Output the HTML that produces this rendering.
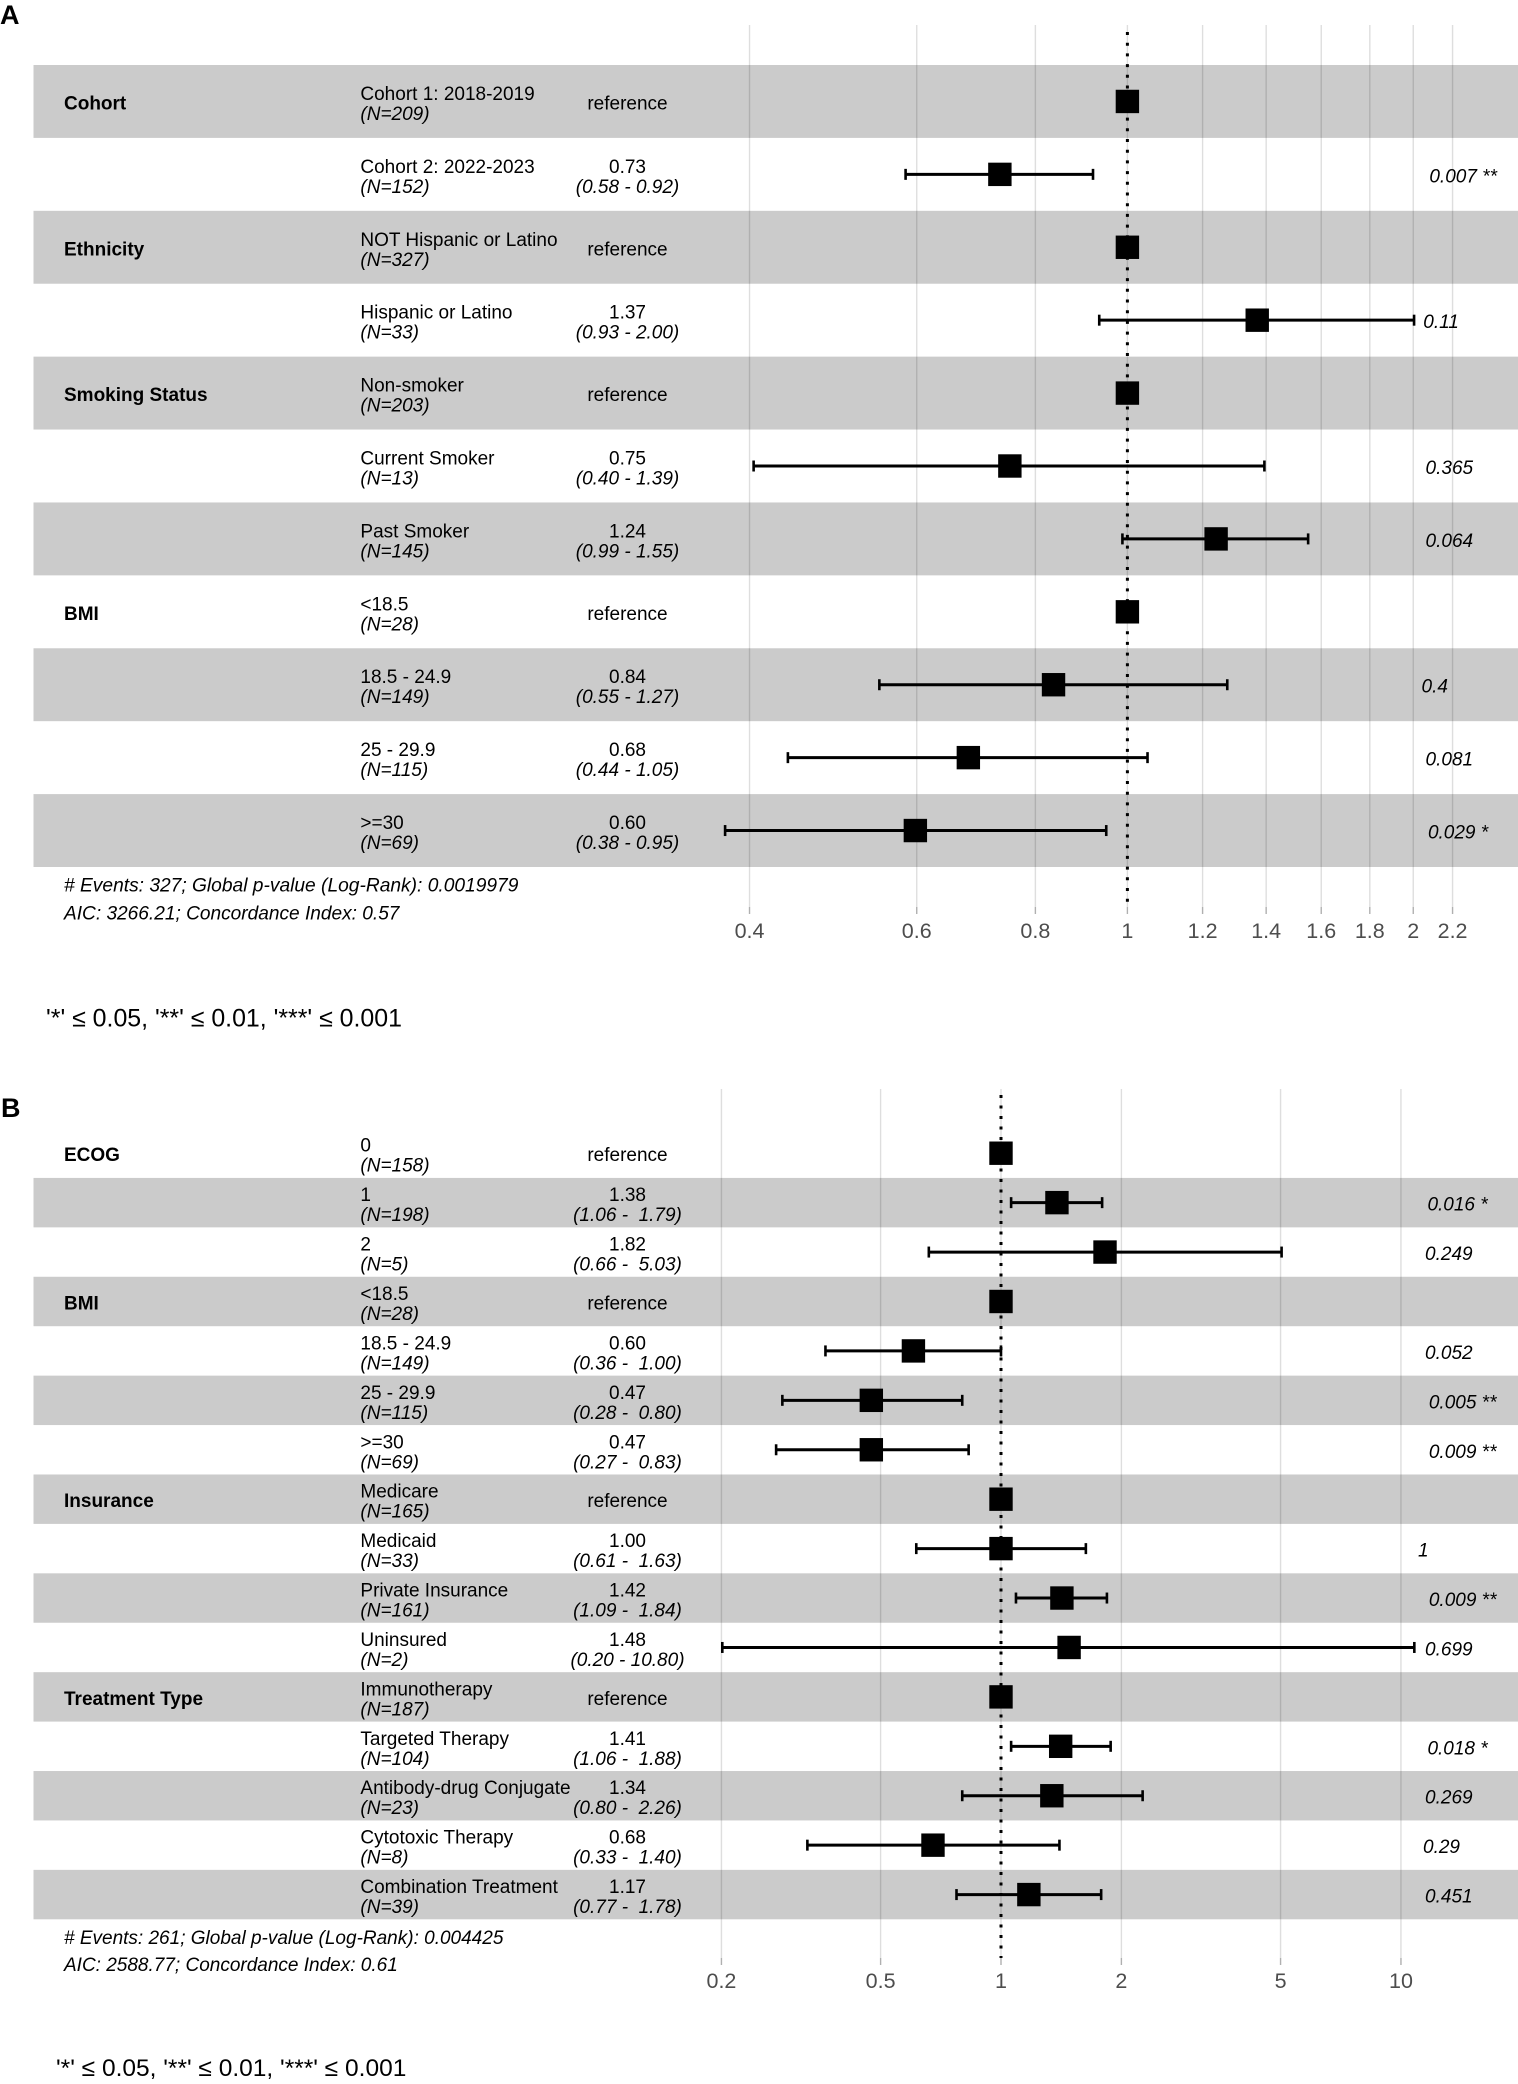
<!DOCTYPE html>
<html lang="en">
<head>
<meta charset="utf-8">
<title>Forest plots of hazard ratios</title>
<style>
html,body{margin:0;padding:0;background:#fff;}
svg{display:block;}
text{font-family:"Liberation Sans",Arial,sans-serif;white-space:pre;}
</style>
</head>
<body>
<svg id="figure" xmlns="http://www.w3.org/2000/svg" width="1518" height="2084" viewBox="0 0 1518 2084">
  <text x="0" y="24" font-size="27" font-weight="bold">A</text>
  <text x="1" y="1117" font-size="27" font-weight="bold">B</text>
  <text x="64" y="891.5" font-size="19.2" font-style="italic"># Events: 327; Global p-value (Log-Rank): 0.0019979</text>
  <text x="64" y="919.5" font-size="19.1" font-style="italic">AIC: 3266.21; Concordance Index: 0.57</text>
  <text x="46" y="1026.5" font-size="24.9">'*' ≤ 0.05, '**' ≤ 0.01, '***' ≤ 0.001</text>
  <text x="64" y="1944" font-size="19" font-style="italic"># Events: 261; Global p-value (Log-Rank): 0.004425</text>
  <text x="64" y="1971" font-size="19" font-style="italic">AIC: 2588.77; Concordance Index: 0.61</text>
  <text x="56" y="2076" font-size="24.5">'*' ≤ 0.05, '**' ≤ 0.01, '***' ≤ 0.001</text>
</svg>
<script>
// Panel A data (estimates; they round to the printed values)
const aGroups = ["Cohort","","Ethnicity","","Smoking Status","","","BMI","","",""];
const aLevels = ["Cohort 1: 2018-2019","Cohort 2: 2022-2023","NOT Hispanic or Latino","Hispanic or Latino","Non-smoker","Current Smoker","Past Smoker","<18.5","18.5 - 24.9","25 - 29.9",">=30"];
const aCounts = [209,152,327,33,203,13,145,28,149,115,69];
const aHR = [1,0.734,1,1.37,1,0.752,1.24,1,0.836,0.68,0.598];
const aLow = [null,0.584,null,0.934,null,0.404,0.988,null,0.548,0.439,0.377];
const aHigh = [null,0.92,null,2.004,null,1.394,1.55,null,1.274,1.05,0.95];
const aP = ["","0.007 **","","0.11","","0.365","0.064","","0.4","0.081","0.029 *"];
const aTicks = [0.4,0.6,0.8,1,1.2,1.4,1.6,1.8,2,2.2];

// Panel B data (estimates; they round to the printed values)
const bGroups = ["ECOG","","","BMI","","","","Insurance","","","","Treatment Type","","","",""];
const bLevels = ["0","1","2","<18.5","18.5 - 24.9","25 - 29.9",">=30","Medicare","Medicaid","Private Insurance","Uninsured","Immunotherapy","Targeted Therapy","Antibody-drug Conjugate","Cytotoxic Therapy","Combination Treatment"];
const bCounts = [158,198,5,28,149,115,69,165,33,161,2,187,104,23,8,39];
const bHR = [1,1.38,1.82,1,0.604,0.474,0.474,1,1.00,1.42,1.48,1,1.41,1.34,0.676,1.174];
const bLow = [null,1.06,0.66,null,0.364,0.284,0.274,null,0.614,1.09,0.201,null,1.06,0.80,0.328,0.774];
const bHigh = [null,1.79,5.03,null,1.00,0.80,0.83,null,1.63,1.84,10.80,null,1.88,2.26,1.40,1.78];
const bP = ["","0.016 *","0.249","","0.052","0.005 **","0.009 **","","1","0.009 **","0.699","","0.018 *","0.269","0.29","0.451"];
const bTicks = [0.2,0.5,1,2,5,10];

const SVG_NS = "http://www.w3.org/2000/svg";
const figure = document.getElementById("figure");

function make(tag, attrs, parent, content) {
  const el = document.createElementNS(SVG_NS, tag);
  for (const k in attrs) el.setAttribute(k, attrs[k]);
  if (content !== undefined) el.textContent = content;
  parent.appendChild(el);
  return el;
}

function drawPanel(cfg) {
  const rowH = (cfg.bandBottom - cfg.bandTop) / cfg.levels.length;
  const xScale = v => cfg.xAtOne + cfg.xPerLog * Math.log(v);
  const yScale = i => cfg.bandTop + rowH * (i + 0.5);
  const panel = make("g", {}, figure);
  
  

  cfg.levels.forEach((lvl, i) => {
    if (i % 2 === cfg.grayParity) {
      const band = make("rect", {x: 33.5, y: yScale(i) - rowH / 2, width: 1484.5, height: rowH, fill: "#cbcbcb"}, panel);
      
      
    }
  });

  cfg.ticks.forEach(t => {
    const gx = xScale(t);
    const grid = make("line", {x1: gx, x2: gx, y1: cfg.gridTop, y2: cfg.tickTop, stroke: "#000", "stroke-opacity": 0.13, "stroke-width": 1.4}, panel);
    
    
    const tick = make("line", {x1: gx, x2: gx, y1: cfg.tickTop, y2: cfg.tickTop + 7, stroke: "#b0b0b0", "stroke-width": 1.4}, panel);
    
    
    const tl = make("text", {x: gx, y: cfg.tickLabelY, "font-size": 21.5, fill: "#4d4d4d", "text-anchor": "middle"}, panel, String(t));
    
    
  });

  const ref = make("line", {x1: xScale(1), x2: xScale(1), y1: cfg.refTop, y2: cfg.tickTop, stroke: "#000", "stroke-width": 3, "stroke-dasharray": "3 " + cfg.refGap}, panel);
  
  

  const w = cfg.ciWidth;
  cfg.levels.forEach((lvl, i) => {
    const cy = yScale(i);
    if (cfg.groups[i]) {
      const g = make("text", {x: 64, y: cy + 8, "font-size": 19, "font-weight": "bold"}, panel, cfg.groups[i]);
      
      
    }
    const lv = make("text", {x: 360.4, y: cy - 1.5, "font-size": 19}, panel, lvl);
    
    
    const n = make("text", {x: 360.4, y: cy + 18.5, "font-size": 19, "font-style": "italic"}, panel, "(N=" + cfg.counts[i] + ")");
    
    

    if (cfg.low[i] === null) {
      const rf = make("text", {x: 627.5, y: cy + 8, "font-size": 19, "text-anchor": "middle"}, panel, "reference");
      
      
    } else {
      const hr = make("text", {x: 627.5, y: cy - 1.5, "font-size": 19, "text-anchor": "middle"}, panel, cfg.hr[i].toFixed(2));
      
      
      const ci = make("text", {x: 627.5, y: cy + 18.5, "font-size": 19, "font-style": "italic", "text-anchor": "middle"}, panel,
        "(" + cfg.low[i].toFixed(2) + " - " + cfg.high[i].toFixed(2).padStart(w, " ") + ")");
      
      

      const x1 = xScale(cfg.low[i]), x2 = xScale(cfg.high[i]);
      const bar = make("line", {x1: x1, x2: x2, y1: cy, y2: cy, stroke: "#000", "stroke-width": 3}, panel);
      
      
      const capL = make("line", {x1: x1, x2: x1, y1: cy - 5.5, y2: cy + 5.5, stroke: "#000", "stroke-width": 2.6}, panel);
      
      
      const capH = make("line", {x1: x2, x2: x2, y1: cy - 5.5, y2: cy + 5.5, stroke: "#000", "stroke-width": 2.6}, panel);
      
      
    }

    const sq = make("rect", {x: xScale(cfg.hr[i]) - 11.7, y: cy - 11.7, width: 23.4, height: 23.4, fill: "#000"}, panel);
    
    

    if (cfg.p[i]) {
      const pt = make("text", {x: cfg.pStart, y: cy + 8, "font-size": 19, "font-style": "italic"}, panel, cfg.p[i]);
      
      
      pt.setAttribute("x", cfg.pStart + 0.19 * pt.getComputedTextLength());
    }
  });
}

drawPanel({
  name: "panel-a", groups: aGroups, levels: aLevels, counts: aCounts, hr: aHR, low: aLow, high: aHigh, p: aP, ticks: aTicks,
  bandTop: 65, bandBottom: 867, grayParity: 0, xAtOne: 1127.4, xPerLog: 412.4,
  gridTop: 25, tickTop: 907, tickLabelY: 938, refTop: 32, refGap: 7.7, ciWidth: 4, pStart: 1416.5
});
drawPanel({
  name: "panel-b", groups: bGroups, levels: bLevels, counts: bCounts, hr: bHR, low: bLow, high: bHigh, p: bP, ticks: bTicks,
  bandTop: 1128.5, bandBottom: 1919.3, grayParity: 1, xAtOne: 1001, xPerLog: 173.7,
  gridTop: 1089, tickTop: 1958, tickLabelY: 1988, refTop: 1095, refGap: 7.5, ciWidth: 5, pStart: 1416
});
</script>
</body>
</html>
